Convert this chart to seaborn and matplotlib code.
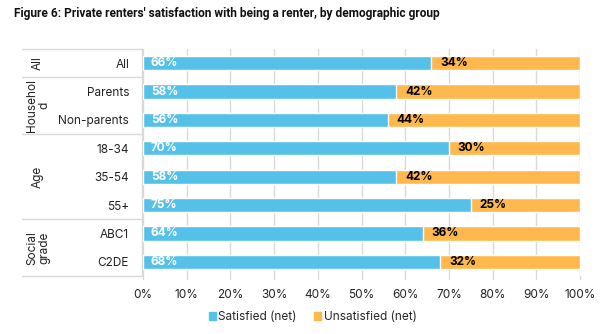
import matplotlib
matplotlib.use("Agg")
import matplotlib.pyplot as plt
import matplotlib.transforms as mtransforms
import seaborn as sns
import pandas as pd
from matplotlib.patches import Patch

categories = ["All", "Parents", "Non-parents", "18-34", "35-54", "55+", "ABC1", "C2DE"]
satisfied = [66, 58, 56, 70, 58, 75, 64, 68]
unsatisfied = [34, 42, 44, 30, 42, 25, 36, 32]
groups = ["All", "Househol\nd", "Age", "Social\ngrade"]
group_spans = [(0, 0), (1, 2), (3, 5), (6, 7)]
xticks = [0, 10, 20, 30, 40, 50, 60, 70, 80, 90, 100]
series_names = ["Satisfied (net)", "Unsatisfied (net)"]

BLUE = "#56C1E8"
ORANGE = "#FFB84D"
GRID = "#D9D9D9"

sns.set_theme(style="white")
plt.rcParams["font.family"] = ["Inter", "DejaVu Sans"]

df = pd.DataFrame({
    "category": categories,
    "satisfied": satisfied,
    "total": [s + u for s, u in zip(satisfied, unsatisfied)],
})

fig = plt.figure(figsize=(6.07, 3.34), dpi=100)
ax = fig.add_axes([143 / 607, 1 - 276 / 334, (580 - 143) / 607, (276 - 49) / 334])

sns.barplot(data=df, y="category", x="total", order=categories, color=ORANGE,
            orient="h", width=0.5, ax=ax, saturation=1, zorder=3)
sns.barplot(data=df, y="category", x="satisfied", order=categories, color=BLUE,
            orient="h", width=0.5, ax=ax, saturation=1, zorder=3)

for i, (s, u) in enumerate(zip(satisfied, unsatisfied)):
    ax.text(1.8, i, f"{s}%", color="white", fontsize=8.5, fontweight="bold",
            va="center", ha="left", zorder=5)
    ax.text(s + 2.0, i, f"{u}%", color="black", fontsize=8.5, fontweight="bold",
            va="center", ha="left", zorder=5)

ax.set_xlim(0, 100)
ax.set_ylim(7.5, -0.5)
ax.set_xticks(xticks)
ax.set_xticklabels([f"{t}%" for t in xticks], fontsize=8.5, color="#222222")
ax.set_yticks(range(len(categories)))
ax.set_yticklabels(categories, fontsize=8.5, color="#222222")
ax.tick_params(axis="y", length=0, pad=10)
ax.tick_params(axis="x", length=0, pad=9)
ax.set_xlabel("")
ax.set_ylabel("")
for sp in ax.spines.values():
    sp.set_visible(False)
ax.xaxis.grid(True, color=GRID, linewidth=1, zorder=0)
ax.set_axisbelow(True)
for t in xticks:
    ax.plot([t, t], [7.5, 7.6], color=GRID, lw=1, clip_on=False, zorder=0)

# left table
trans = mtransforms.blended_transform_factory(fig.transFigure, ax.transData)
x0, x1 = 22 / 607, 142 / 607
for yb in [-0.5, 0.5, 2.5, 5.5, 7.5]:
    ax.plot([x0, x1], [yb, yb], color=GRID, lw=1, transform=trans, clip_on=False)
ax.plot([x1, x1], [-0.5, 7.5], color=GRID, lw=1, transform=trans, clip_on=False)
for g, (a, b) in zip(groups, group_spans):
    ax.text(38 / 607, (a + b) / 2, g, rotation=90, fontsize=8.5, color="#222222",
            ha="center", va="center", transform=trans, linespacing=1.0)

fig.text(14 / 607, 1 - 14 / 334, "Figure 6: Private renters' satisfaction with being a renter, by demographic group",
         fontsize=8.6, fontweight="bold", ha="left", va="center", color="#111111",
         family=["Roboto", "DejaVu Sans"])

handles = [Patch(color=BLUE), Patch(color=ORANGE)]
fig.legend(handles, series_names, loc="center", bbox_to_anchor=(0.515, 1 - 317 / 334),
           ncol=2, frameon=False, fontsize=8.5, handlelength=0.6, handleheight=0.6,
           handletextpad=0.2, columnspacing=1.5)

fig.savefig("out.png", dpi=100)
